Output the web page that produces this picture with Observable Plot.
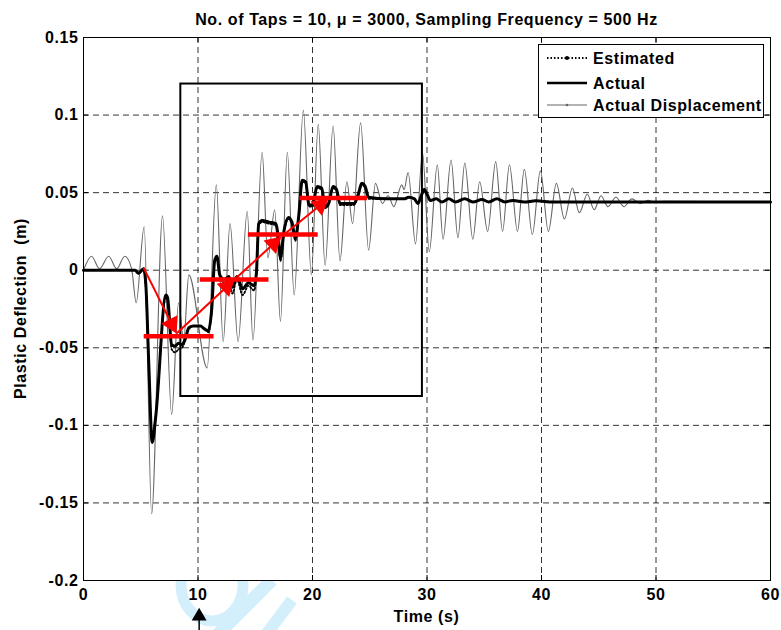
<!DOCTYPE html>
<html><head><meta charset="utf-8">
<script src="https://cdn.jsdelivr.net/npm/d3@7"></script>
<script src="https://cdn.jsdelivr.net/npm/@observablehq/plot@0.6"></script>
<style>
body{margin:0;background:#fff;}
#wrap{position:relative;width:781px;height:630px;overflow:hidden;}
#wrap svg{position:absolute;left:0;top:0;}
.t{font-family:"Liberation Sans",Arial,sans-serif;font-weight:bold;font-size:16px;letter-spacing:0.6px;fill:#000;white-space:pre;}
</style></head><body><div id="wrap"></div>
<script>
// ---------- data ----------
const xDomain=[0,60];
const yDomain=[-0.2,0.15];
const xTicks=[0,10,20,30,40,50,60];
const xTickLabels=["0","10","20","30","40","50","60"];
const yTicks=[-0.2,-0.15,-0.1,-0.05,0,0.05,0.1,0.15];
const yTickLabels=["-0.2","-0.15","-0.1","-0.05","0","0.05","0.1","0.15"];
const titleText="No. of Taps = 10, \u03bc = 3000, Sampling Frequency = 500 Hz";
const xLabel="Time (s)";
const yLabel="Plastic Deflection  (m)";
const seriesNames=["Estimated","Actual","Actual Displacement"];

// Actual Displacement (grey) – peaks and troughs
const dispTime=[0,0.7,1.4,2.2,2.9,3.6,4.2,4.6,5.3,5.95,6.9,7.7,8.3,8.75,9.2,10.8,11.6,12.2,12.8,13.5,14.3,14.8,15.6,16.1,16.7,17.2,17.8,18.4,19.2,19.9,20.5,21.1,21.8,22.4,23.0,23.5,24.2,24.9,25.5,26.1,26.6,27.1,27.8,28.0,28.35,29.0,29.6,30.2,30.9,31.4,32.1,32.7,33.3,34.0,34.6,35.3,36.0,36.6,37.2,37.9,38.5,39.2,39.9,40.6,41.3,42.0,42.7,43.3,44.0,44.6,45.2,45.8,46.5,47.2,47.9,48.6,49.3,50.0,50.7,60];
const dispValue=[0,0.009,0.001,0.009,0.001,0.009,0.001,-0.021,0.028,-0.157,0.035,-0.093,-0.021,-0.045,-0.003,-0.063,0.055,-0.046,0.030,-0.046,0.038,-0.045,0.076,0.008,0.039,-0.033,0.076,-0.016,0.103,-0.003,0.094,0.003,0.093,0.006,0.057,0.030,0.095,0.013,0.056,0.043,0.048,0.041,0.055,0.052,0.063,0.017,0.076,0.012,0.068,0.020,0.071,0.021,0.069,0.020,0.057,0.025,0.070,0.025,0.068,0.025,0.065,0.023,0.064,0.025,0.056,0.033,0.053,0.037,0.049,0.039,0.048,0.041,0.047,0.041,0.046,0.043,0.045,0.0435,0.0445,0.044];

// Actual (thick black) and Estimated (dotted) deflection
const actualTime=[0,4.5,4.8,5.25,5.45,5.7,6.0,6.3,7.2,7.35,7.7,8.0,8.3,8.6,8.9,9.2,9.6,10.2,10.6,10.9,11.2,11.45,11.65,11.9,12.3,12.7,13.0,13.4,13.9,14.4,14.9,15.1,15.3,15.6,16.2,16.8,17.0,17.2,17.5,17.9,18.2,18.5,18.8,19.1,19.4,19.7,20.0,20.4,20.8,21.1,21.4,21.8,22.1,22.4,23.6,24.0,24.3,24.6,24.9,26.5,28.0,28.4,28.9,29.2,29.5,29.75,30.0,30.3,30.8,31.3,31.9,32.5,33.3,34.0,34.8,35.4,36.1,36.8,37.5,38.5,39.5,41,60];
const actualValue=[0,0,-0.002,0.001,-0.01,-0.06,-0.111,-0.095,-0.016,-0.018,-0.048,-0.049,-0.047,-0.048,-0.044,-0.037,-0.036,-0.036,-0.038,-0.039,-0.025,0.006,0.009,-0.003,-0.006,-0.004,-0.011,-0.004,-0.012,-0.008,-0.010,-0.002,0.030,0.032,0.031,0.030,0.022,0.008,0.025,0.034,0.031,0.021,0.035,0.058,0.057,0.042,0.042,0.054,0.053,0.041,0.043,0.054,0.052,0.043,0.043,0.049,0.056,0.054,0.047,0.046,0.046,0.047,0.046,0.043,0.048,0.052,0.049,0.045,0.046,0.044,0.046,0.044,0.046,0.044,0.0455,0.044,0.046,0.044,0.045,0.044,0.0447,0.044,0.044];
const estimatedValue=[0,0,-0.002,0.001,-0.012,-0.062,-0.110,-0.094,-0.017,-0.020,-0.051,-0.053,-0.051,-0.050,-0.045,-0.038,-0.036,-0.036,-0.038,-0.040,-0.026,0.005,0.008,-0.004,-0.008,-0.006,-0.015,-0.006,-0.016,-0.010,-0.013,-0.003,0.029,0.031,0.030,0.029,0.021,0.006,0.024,0.033,0.030,0.019,0.034,0.057,0.056,0.041,0.041,0.053,0.052,0.040,0.042,0.053,0.051,0.042,0.042,0.048,0.055,0.053,0.046,0.046,0.046,0.047,0.046,0.043,0.048,0.052,0.049,0.045,0.046,0.044,0.046,0.044,0.046,0.044,0.0455,0.044,0.046,0.044,0.045,0.044,0.0447,0.044,0.044];

// red level lines
const levelValue=[-0.0426,-0.006,0.023,0.0465];
const levelStart=[5.3,10.2,14.4,18.9];
const levelEnd=[11.4,16.2,20.5,24.8];
// red arrows (start -> tip)
const arrowX1=[5.24,8.12,13.19,17.29];
const arrowY1=[0.0017,-0.0408,-0.006,0.0217];
const arrowX2=[8.12,13.19,17.29,21.4];
const arrowY2=[-0.0408,-0.006,0.0217,0.0462];
// black highlight box
const boxX=[8.5,29.6];
const boxY=[-0.0814,0.12];
// black marker arrow under the time axis
const markerTime=[10.1];
const markerFrom=[-0.233];
const markerTip=[-0.2175];

// ---------- layout ----------
const W=781,H=630,mL=83,mR=11,mT=37,mB=50;
const kx=(W-mL-mR)/(xDomain[1]-xDomain[0]);
const ky=(H-mT-mB)/(yDomain[1]-yDomain[0]);
const HEAD=5.3;                    // px centroid->base of arrowhead
const rHead=Math.sqrt(HEAD*HEAD*3*Math.sqrt(3)/Math.PI);
const MHEAD=4.3;
const rM=Math.sqrt(MHEAD*MHEAD*3*Math.sqrt(3)/Math.PI);
const TICK=5;

const disp=dispTime.map((t,i)=>({t,v:dispValue[i]}));
const actual=actualTime.map((t,i)=>({t,v:actualValue[i],e:estimatedValue[i]}));
const levels=levelValue.map((v,i)=>({v,x1:levelStart[i],x2:levelEnd[i]}));
function head(x1,y1,x2,y2,h){
  const dxp=(x2-x1)*kx, dyp=-(y2-y1)*ky, n=Math.hypot(dxp,dyp);
  const ux=dxp/n, uy=dyp/n;
  return {x1,y1,x2,y2,cx:x2-ux*2*h/kx,cy:y2+uy*2*h/ky,rot:Math.atan2(ux,-uy)*180/Math.PI};
}
const arrows=arrowX1.map((x,i)=>head(x,arrowY1[i],arrowX2[i],arrowY2[i],HEAD));
const marker=markerTime.map((t,i)=>head(t,markerFrom[i],t,markerTip[i],MHEAD));
const box=[{x1:boxX[0],x2:boxX[1],y1:boxY[0],y2:boxY[1]}];
const gridX=xTicks.filter(d=>d>xDomain[0]&&d<xDomain[1]);
const gridY=yTicks.filter(d=>d>yDomain[0]&&d<yDomain[1]);

const wrap=document.getElementById("wrap");
const NS="http://www.w3.org/2000/svg";

// background layer: faint watermark shapes + titles
const bg=document.createElementNS(NS,"svg");
bg.setAttribute("width",W);bg.setAttribute("height",H);
bg.innerHTML=`
<g stroke="#d4effc" fill="none">
<ellipse cx="212" cy="585" rx="31" ry="36" stroke-width="11"/>
<line x1="212" y1="640" x2="272" y2="580" stroke-width="13"/>
<line x1="262" y1="640" x2="292" y2="600" stroke-width="12"/>
</g>
<text class="t" x="${mL+(W-mL-mR)/2}" y="25" text-anchor="middle">${titleText}</text>
<text class="t" x="${mL+(W-mL-mR)/2}" y="622" text-anchor="middle">${xLabel}</text>
<text class="t" xml:space="preserve" transform="translate(26,${mT+(H-mT-mB)/2}) rotate(-90)" text-anchor="middle">${yLabel}</text>`;
wrap.appendChild(bg);

const chart=Plot.plot({
  width:W,height:H,marginLeft:mL,marginRight:mR,marginTop:mT,marginBottom:mB,
  style:{background:"transparent",fontFamily:"Liberation Sans, Arial, sans-serif",fontSize:"16px",fontWeight:"bold",letterSpacing:"0.6px",color:"#000"},
  x:{domain:xDomain,ticks:xTicks,tickSize:0,tickPadding:8,tickFormat:d=>xTickLabels[xTicks.indexOf(d)],label:null},
  y:{domain:yDomain,ticks:yTicks,tickSize:0,tickPadding:5,tickFormat:d=>yTickLabels[yTicks.indexOf(d)],label:null},
  marks:[
    Plot.frame({fill:"white",stroke:"none"}),
    Plot.ruleX(gridX,{stroke:"#000",strokeWidth:0.8,strokeDasharray:"6,4"}),
    Plot.ruleY(gridY,{stroke:"#000",strokeWidth:0.8,strokeDasharray:"6,4"}),
    Plot.ruleX(xTicks,{y1:yDomain[0],y2:yDomain[0]+TICK/ky,stroke:"#000"}),
    Plot.ruleX(xTicks,{y1:yDomain[1],y2:yDomain[1]-TICK/ky,stroke:"#000"}),
    Plot.ruleY(yTicks,{x1:xDomain[0],x2:xDomain[0]+TICK/kx,stroke:"#000"}),
    Plot.ruleY(yTicks,{x1:xDomain[1],x2:xDomain[1]-TICK/kx,stroke:"#000"}),
    Plot.line(disp,{x:"t",y:"v",stroke:"#666",strokeWidth:1.1,curve:"monotone-x"}),
    Plot.line(actual,{x:"t",y:"v",stroke:"#000",strokeWidth:3,curve:"monotone-x"}),
    Plot.line(actual,{x:"t",y:"e",stroke:"#000",strokeWidth:1.8,strokeDasharray:"1.5,2",curve:"monotone-x"}),
    Plot.rect(box,{x1:"x1",x2:"x2",y1:"y1",y2:"y2",fill:"none",stroke:"#000",strokeWidth:2}),
    Plot.ruleY(levels,{y:"v",x1:"x1",x2:"x2",stroke:"#ff0000",strokeWidth:4.5}),
    Plot.link(arrows,{x1:"x1",y1:"y1",x2:"cx",y2:"cy",stroke:"#ff0000",strokeWidth:2}),
    Plot.dot(arrows,{x:"cx",y:"cy",symbol:"triangle",r:rHead,fill:"#ff0000",stroke:"none",rotate:"rot"}),
    Plot.frame({stroke:"#000",strokeWidth:1}),
    Plot.link(marker,{x1:"x1",y1:"y1",x2:"cx",y2:"cy",stroke:"#000",strokeWidth:1.5}),
    Plot.dot(marker,{x:"cx",y:"cy",symbol:"triangle",r:rM,fill:"#000",stroke:"none",rotate:"rot"})
  ]
});
wrap.appendChild(chart);

// legend layer
const lg=document.createElementNS(NS,"svg");
lg.setAttribute("width",W);lg.setAttribute("height",H);
lg.style.pointerEvents="none";
const rows=[58,83,105];
let s=`<rect x="538.5" y="44.5" width="225" height="73" fill="#fff" stroke="#000" stroke-width="1"/>`;
s+=`<line x1="547" x2="587" y1="${rows[0]}" y2="${rows[0]}" stroke="#000" stroke-width="1.8" stroke-dasharray="1.5,2"/><circle cx="567" cy="${rows[0]}" r="2" fill="#000"/>`;
s+=`<line x1="547" x2="587" y1="${rows[1]}" y2="${rows[1]}" stroke="#000" stroke-width="2.5"/>`;
s+=`<line x1="547" x2="587" y1="${rows[2]}" y2="${rows[2]}" stroke="#666" stroke-width="1"/><circle cx="567" cy="${rows[2]}" r="1.3" fill="#666"/>`;
seriesNames.forEach((n,i)=>{s+=`<text class="t" x="593" y="${rows[i]+6}">${n}</text>`;});
lg.innerHTML=s;
wrap.appendChild(lg);
</script></body></html>
